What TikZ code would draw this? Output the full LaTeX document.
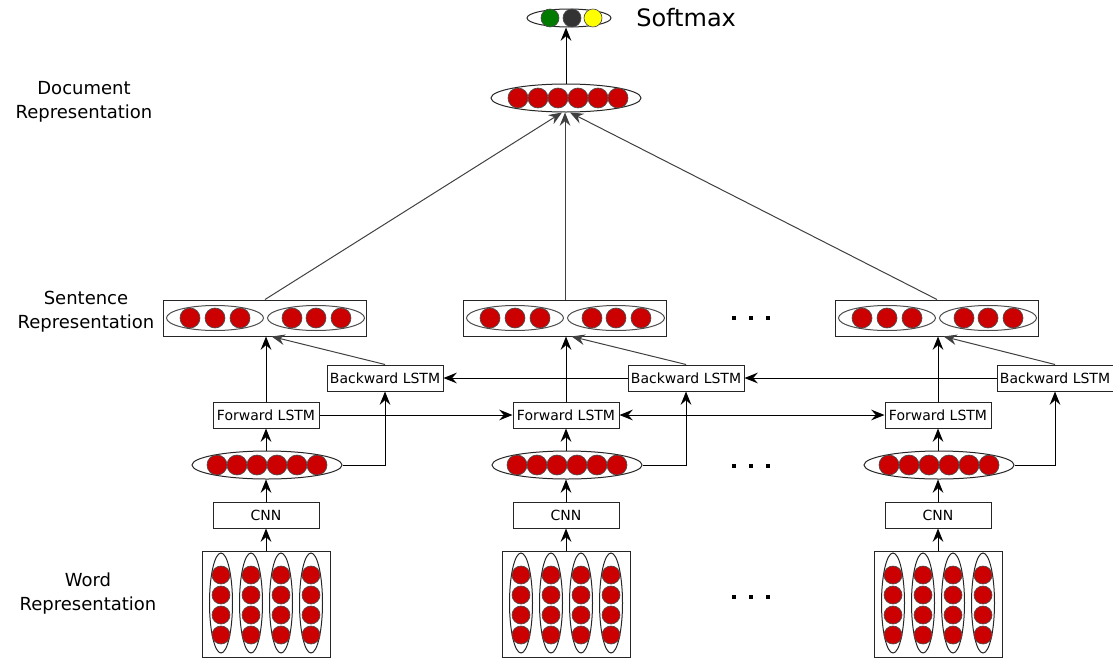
\documentclass[tikz,border=0pt]{standalone}
\usepackage{fontspec}
\setmainfont{DejaVu Sans}
\usetikzlibrary{arrows.meta,shapes.geometric}
\definecolor{nred}{HTML}{CC0000}
\definecolor{ngreen}{HTML}{007A00}
\definecolor{ndark}{HTML}{333333}
\definecolor{nyellow}{HTML}{FFFF00}
\tikzset{
  arr/.style={-{Stealth[length=10pt,width=8pt,inset=3.5pt]}, line width=0.75pt},
  darr/.style={{Stealth[length=10pt,width=8pt,inset=3.5pt]}-{Stealth[length=10pt,width=8pt,inset=3.5pt]}, line width=0.75pt},
  gline/.style={-{Stealth[length=10pt,width=8pt,inset=3.5pt]}, line width=0.75pt, draw=black!75},
  lstm/.style={draw=black!85, line width=0.75pt, rectangle, inner sep=0pt, minimum width=106*0.75pt, minimum height=26*0.75pt, font=\fontsize{10.5pt}{12pt}\selectfont},
  blstm/.style={lstm, minimum width=116*0.75pt},
  sentbox/.style={draw=black!85, line width=0.75pt, rectangle, inner sep=0pt, minimum width=203*0.75pt, minimum height=36*0.75pt},
  wordbox/.style={draw=black!85, line width=0.75pt, rectangle, inner sep=0pt, minimum width=128*0.75pt, minimum height=106*0.75pt},
  vec/.style={draw=black!85, line width=0.75pt, ellipse, inner sep=0pt, minimum width=150*0.75pt, minimum height=28*0.75pt},
  halfvec/.style={draw=black!70, line width=0.75pt, ellipse, inner sep=0pt, minimum width=97*0.75pt, minimum height=25*0.75pt},
  wvec/.style={draw=black!85, line width=0.75pt, ellipse, inner sep=0pt, minimum width=23*0.75pt, minimum height=100*0.75pt},
  neuron/.style={circle, draw=black!70, line width=0.5pt, fill=nred, inner sep=0pt, minimum size=20*0.75pt},
  wneuron/.style={neuron, minimum size=18*0.75pt},
  lbl/.style={font=\fontsize{13.5pt}{18pt}\selectfont, align=center},
  dotsq/.style={fill=black, inner sep=0pt, minimum size=4.5*0.75pt, rectangle}
}
\begin{document}
\begin{tikzpicture}[x=0.75pt,y=-0.75pt]
\useasboundingbox (0,0) rectangle (1113,657);

% Softmax
\node[draw=black!85, line width=0.75pt, ellipse, inner sep=0pt, minimum width=84*0.75pt, minimum height=18*0.75pt] (soft) at (569,18) {};
\node[neuron, fill=ngreen, minimum size=18*0.75pt] (sm1) at (550,18) {};
\node[neuron, fill=ndark, minimum size=18*0.75pt] (sm2) at (572,18) {};
\node[neuron, fill=nyellow, minimum size=18*0.75pt] (sm3) at (593,18) {};
\node[anchor=west, font=\fontsize{18pt}{22pt}\selectfont, inner sep=0pt] (softlbl) at (636,18) {Softmax};

% Document
\node[vec] (doc) at (566,98) {};
\foreach \i in {0,...,5} \node[neuron] (dn\i) at (518+\i*20,98) {};
\draw[arr] (doc.north) -- (doc.north |- soft.south);

% Left labels
\node[lbl] (ldoc) at (84,102) {Document\\Representation};
\node[lbl] (lsent) at (86,312) {Sentence\\Representation};
\node[lbl] (lword) at (88,594) {Word\\Representation};

% Columns
\foreach \c/\X/\B in {1/265/385, 2/565/686, 3/937/1055} {
  \node[sentbox] (s\c) at (\X,318) {};
  \node[halfvec] (sl\c) at (\X-50,318) {};
  \node[halfvec] (sr\c) at (\X+51,318) {};
  \foreach \k/\dx in {1/-75,2/-50,3/-25,4/27,5/51,6/76}
    \node[neuron] (sn\c\k) at (\X+\dx,318) {};
  \node[blstm] (b\c) at (\B,378) {Backward LSTM};
  \node[lstm] (f\c) at (\X+1,415) {Forward LSTM};
  \node[vec] (e\c) at (\X+2,465) {};
  \foreach \k in {0,...,5}
    \node[neuron] (en\c\k) at (\X-48+\k*20,465) {};
  \node[lstm] (cnn\c) at (\X+1,515) {CNN};
  \node[wordbox] (w\c) at (\X+1,604) {};
  \foreach \j/\dx in {1/-45,2/-15,3/15,4/45} {
    \node[wvec] (wv\c\j) at (\X+1+\dx,603) {};
    \foreach \r in {0,...,3}
      \node[wneuron] (wn\c\j\r) at (\X+1+\dx,575+\r*20) {};
  }
  \draw[arr] (w\c.north) -- (cnn\c.south);
  \draw[arr] (cnn\c.north) -- (e\c.south -| cnn\c.north);
  \draw[arr] (e\c.north -| f\c.south) -- (f\c.south);
  \draw[arr] (f\c.north) -- (f\c.north |- s\c.south);
  \draw[arr] (e\c.east) -| (b\c.south);
  \draw[gline] (b\c.north) -- ([xshift=5pt]s\c.south);
}

% Sentence -> document
\draw[gline] (s1.north) -- ([xshift=-3pt]doc.south);
\draw[gline] (s2.north) -- (s2.north |- doc.south);
\draw[gline] (s3.north) -- ([xshift=3pt]doc.south);

% Recurrent connections
\draw[arr] (f1.east) -- (f2.west);
\draw[darr] (f2.east) -- (f3.west);
\draw[arr] (b3.west) -- (b2.east);
\draw[arr] (b2.west) -- (b1.east);

% Ellipsis dots
\foreach \y/\n in {318/a,466/b,597/c}
  \foreach \x/\m in {734/1,751/2,768/3}
    \node[dotsq] (dot\n\m) at (\x,\y) {};
\end{tikzpicture}
\end{document}
